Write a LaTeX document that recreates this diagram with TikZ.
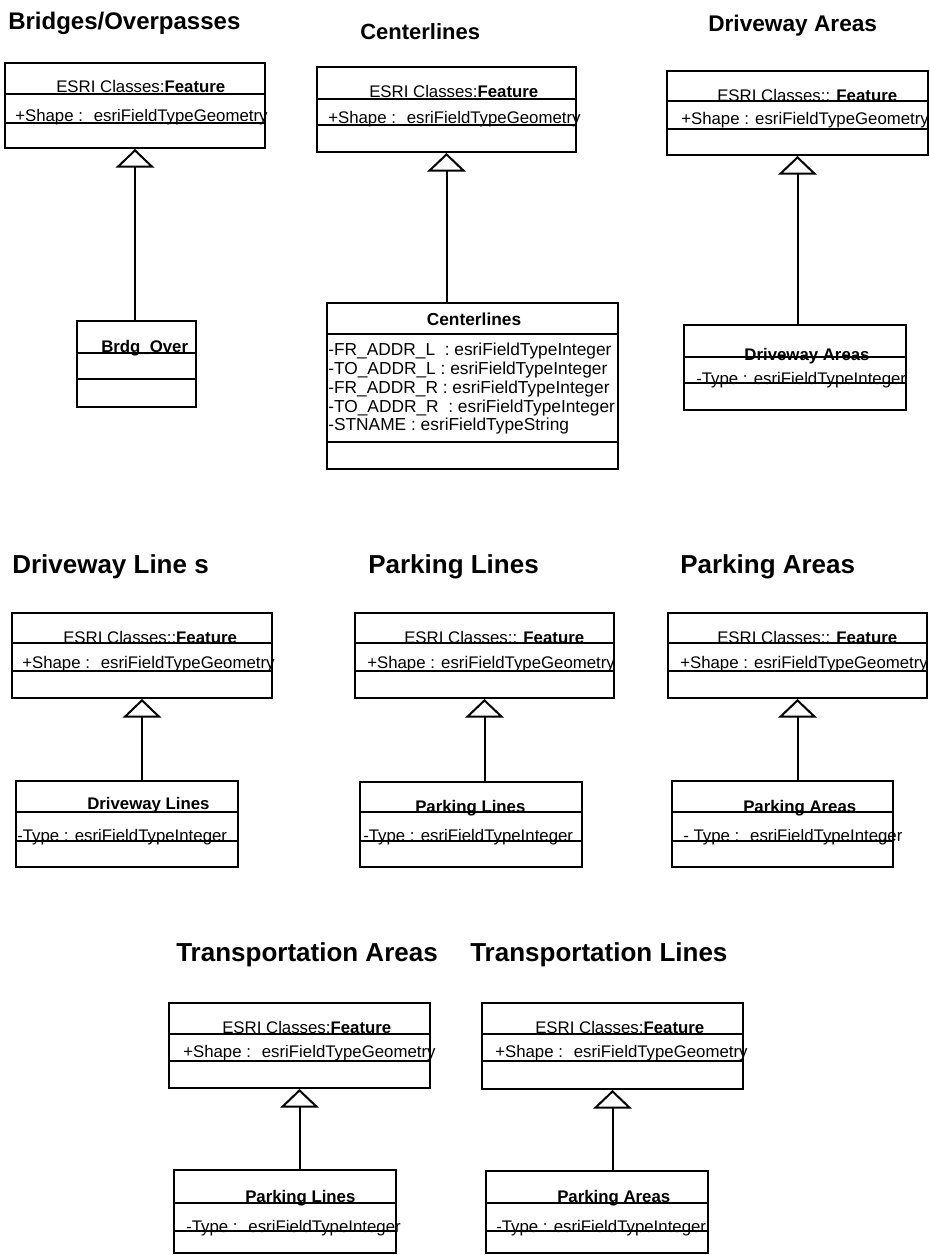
\documentclass[tikz,border=0pt]{standalone}
\usepackage{fontspec}
\setmainfont{Liberation Sans}
\usetikzlibrary{fit,arrows.meta}
\tikzset{
  umlbox/.style={draw, line width=1.5pt, inner sep=0pt},
  divider/.style={line width=1.5pt},
  body/.style={inner sep=0pt, font=\fontsize{12.6}{15}\selectfont},
  attr/.style={inner sep=0pt, font=\fontsize{13}{15}\selectfont},
  heading/.style={inner sep=0pt, font=\fontsize{18}{21}\selectfont\bfseries},
  bigheading/.style={inner sep=0pt, font=\fontsize{19.5}{23}\selectfont\bfseries},
  inherit/.style={line width=1.5pt, -{Triangle[open, length=14pt, width=29pt, line width=1.5pt]}}
}
\newcommand\umlbox[7]{%
  \node[umlbox, fit={(#2,#3) (#4,#5)}] (#1) {};
  \draw[divider] (#2,#6) -- (#4,#6);
  \draw[divider] (#2,#7) -- (#4,#7);
}
\begin{document}
\begin{tikzpicture}[x=0.75pt, y=-0.75pt]
\useasboundingbox (0,0) rectangle (930,1255);

% ---------- titles ----------
\node[heading, anchor=base west] (t1) at (8,30) {Bridges/Overpasses};
\node[heading, anchor=base west, font=\fontsize{16.5}{20}\selectfont\bfseries] (t2) at (360,40) {Centerlines};
\node[heading, anchor=base west, font=\fontsize{17}{20}\selectfont\bfseries] (t3) at (708,32) {Driveway Areas};
\node[bigheading, anchor=base west] (t4) at (12,573) {Driveway Line s};
\node[bigheading, anchor=base west] (t5) at (368,573) {Parking Lines};
\node[bigheading, anchor=base west] (t6) at (680,573) {Parking Areas};
\node[bigheading, anchor=base west] (t7) at (176,961) {Transportation Areas};
\node[bigheading, anchor=base west] (t8) at (470,961) {Transportation Lines};

% ---------- Bridges/Overpasses ----------
\umlbox{f1}{5}{63}{265}{148}{94}{123}
\node[body, anchor=base west] (f1h) at (56,93) {ESRI Classes:\textbf{Feature}};
\node[body, anchor=base west] (f1a) at (15,122) {+Shape : \ esriFieldTypeGeometry};
\umlbox{c1}{77}{321}{196}{407}{353}{379}
\node[body, anchor=base west] (c1h) at (101,352) {\textbf{Brdg\_Over}};
\draw[inherit] (f1.south |- c1.north) -- (f1.south);

% ---------- Centerlines ----------
\umlbox{f2}{317}{67}{576}{152}{99}{125}
\node[body, anchor=base west] (f2h) at (369,98) {ESRI Classes:\textbf{Feature}};
\node[body, anchor=base west] (f2a) at (328,124) {+Shape : \ esriFieldTypeGeometry};
\node[umlbox, fit={(327,303) (618,469)}] (c2) {};
\draw[divider] (327,334) -- (618,334);
\draw[divider] (327,442) -- (618,442);
\node[attr, anchor=base] (c2h) at (474,325) {\textbf{Centerlines}};
\node[attr, anchor=base west] (c2a) at (328,355) {-FR\_ADDR\_L \ : esriFieldTypeInteger};
\node[attr, anchor=base west] (c2b) at (328,374) {-TO\_ADDR\_L : esriFieldTypeInteger};
\node[attr, anchor=base west] (c2c) at (328,393) {-FR\_ADDR\_R : esriFieldTypeInteger};
\node[attr, anchor=base west] (c2d) at (328,412) {-TO\_ADDR\_R \ : esriFieldTypeInteger};
\node[attr, anchor=base west] (c2e) at (328,430) {-STNAME : esriFieldTypeString};
\draw[inherit] (f2.south |- c2.north) -- (f2.south);

% ---------- Driveway Areas ----------
\umlbox{f3}{667}{71}{928}{155}{101}{129}
\node[body, anchor=base west] (f3h) at (717,102) {ESRI Classes:: \textbf{Feature}};
\node[body, anchor=base west] (f3a) at (681,125) {+Shape : esriFieldTypeGeometry};
\umlbox{c3}{684}{325}{906}{410}{357}{383}
\node[body, anchor=base] (c3h) at (807,360) {\textbf{Driveway Areas}};
\node[body, anchor=base west] (c3a) at (696,384) {-Type : esriFieldTypeInteger};
\draw[inherit] (f3.south |- c3.north) -- (f3.south);

% ---------- Driveway Lines ----------
\umlbox{f4}{12}{613}{272}{698}{643}{671}
\node[body, anchor=base west] (f4h) at (63,643) {ESRI Classes::\textbf{Feature}};
\node[body, anchor=base west] (f4a) at (22,668) {+Shape : \ esriFieldTypeGeometry};
\umlbox{c4}{16}{781}{238}{867}{812}{841}
\node[body, anchor=base west] (c4h) at (87,809) {\textbf{Driveway Lines}};
\node[body, anchor=base west] (c4a) at (17,841) {-Type : esriFieldTypeInteger};
\draw[inherit] (f4.south |- c4.north) -- (f4.south);

% ---------- Parking Lines ----------
\umlbox{f5}{355}{613}{614}{698}{643}{671}
\node[body, anchor=base west] (f5h) at (404,643) {ESRI Classes:: \textbf{Feature}};
\node[body, anchor=base west] (f5a) at (367,668) {+Shape : esriFieldTypeGeometry};
\umlbox{c5}{360}{782}{582}{867}{812}{841}
\node[body, anchor=base west] (c5h) at (415,812) {\textbf{Parking Lines}};
\node[body, anchor=base west] (c5a) at (363,841) {-Type : esriFieldTypeInteger};
\draw[inherit] (f5.south |- c5.north) -- (f5.south);

% ---------- Parking Areas ----------
\umlbox{f6}{668}{613}{927}{698}{643}{671}
\node[body, anchor=base west] (f6h) at (717,643) {ESRI Classes:: \textbf{Feature}};
\node[body, anchor=base west] (f6a) at (680,668) {+Shape : esriFieldTypeGeometry};
\umlbox{c6}{672}{781}{893}{867}{812}{841}
\node[body, anchor=base west] (c6h) at (743,812) {\textbf{Parking Areas}};
\node[body, anchor=base west] (c6a) at (683,841) {- Type : \ esriFieldTypeInteger};
\draw[inherit] (f6.south |- c6.north) -- (f6.south);

% ---------- Transportation Areas ----------
\umlbox{f7}{169}{1003}{430}{1088}{1034}{1061}
\node[body, anchor=base west] (f7h) at (222,1033) {ESRI Classes:\textbf{Feature}};
\node[body, anchor=base west] (f7a) at (183,1057) {+Shape : \ esriFieldTypeGeometry};
\umlbox{c7}{174}{1170}{396}{1253}{1203}{1231}
\node[body, anchor=base west] (c7h) at (245,1202) {\textbf{Parking Lines}};
\node[body, anchor=base west] (c7a) at (186,1232) {-Type : \ esriFieldTypeInteger};
\draw[inherit] (f7.south |- c7.north) -- (f7.south);

% ---------- Transportation Lines ----------
\umlbox{f8}{482}{1003}{743}{1089}{1034}{1061}
\node[body, anchor=base west] (f8h) at (535,1033) {ESRI Classes:\textbf{Feature}};
\node[body, anchor=base west] (f8a) at (495,1057) {+Shape : \ esriFieldTypeGeometry};
\umlbox{c8}{486}{1171}{708}{1253}{1203}{1231}
\node[body, anchor=base west] (c8h) at (557,1202) {\textbf{Parking Areas}};
\node[body, anchor=base west] (c8a) at (496,1232) {-Type : esriFieldTypeInteger};
\draw[inherit] (f8.south |- c8.north) -- (f8.south);
\end{tikzpicture}
\end{document}
